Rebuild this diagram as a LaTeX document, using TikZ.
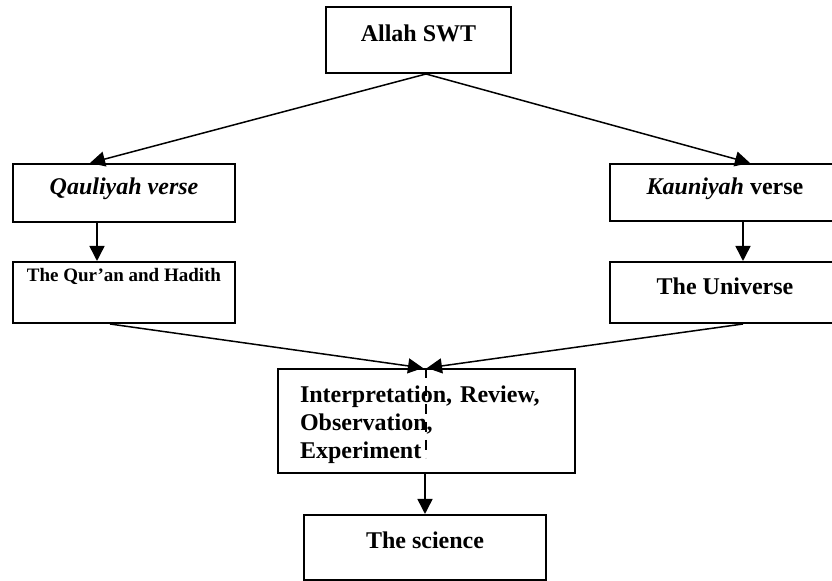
\documentclass[tikz,border=0pt]{standalone}
\usepackage{fontspec}
\setmainfont{Liberation Serif}
\usetikzlibrary{arrows.meta}

\begin{document}
\begin{tikzpicture}[x=0.5pt,y=-0.5pt]
 \useasboundingbox (0,0) rectangle (832,581);
 \tikzstyle{every node} = [draw,line width=1pt,inner sep=0pt,
   font=\fontsize{12}{13.8}\selectfont\bfseries]
 \tikzstyle{flow} = [line width=0.75pt,-{Triangle[length=7.5pt,width=7.5pt]}]
 \node[minimum width=92.5pt,text height=17.5pt,text depth=15.5pt] (allah) at (418.5,40) {Allah SWT};
 \node[minimum width=111pt,text height=15.5pt,text depth=13.5pt] (qauli) at (124,193) {\itshape Qauliyah verse};
 \node[minimum width=111pt,text height=10pt,text depth=20.5pt,
   font=\fontsize{9.5}{11}\selectfont\bfseries] (quran) at (124,292.5) {The Qur'an and Hadith};
 \node[minimum width=115pt,text height=15.5pt,text depth=13pt] (kauni) at (725,192.5) {\textit{Kauniyah} verse};
 \node[minimum width=115pt,text height=16.5pt,text depth=14pt] (univ) at (725,292.5) {The Universe};
 \node[text width=126.5pt,inner xsep=11pt,minimum height=52pt,align=left] (interp) at (426.5,421)
 {\rule{0pt}{12pt}Interpretation, Review,\\ Observation,\\ Experiment};
 \node[minimum width=121pt,text height=17pt,text depth=15.5pt] (sci) at (425,547.5) {The science};
 \coordinate (cut) at (426,458);
 \draw [flow] ([xshift=3.75pt]allah.south) -- ([xshift=-17pt]qauli.north);
 \draw [flow] ([xshift=3.75pt]allah.south) -- ([xshift=12.5pt]kauni.north);
 \draw [flow] ([xshift=-13.5pt]qauli.south) -- ([xshift=-13.5pt]quran.north);
 \draw [flow] ([xshift=9pt]kauni.south) -- ([xshift=9pt]univ.north);
 \draw [flow] ([xshift=-7pt]quran.south) -- ([xshift=-1.75pt]interp.north);
 \draw [flow] ([xshift=9pt]univ.south) -- ([xshift=0.25pt]interp.north);
 \draw [flow] ([xshift=-0.75pt]interp.south) -- (sci.north);
 \draw [line width=0.75pt,dash pattern=on 5pt off 4pt] (interp.north -| cut) -- (cut);
\end{tikzpicture}
\end{document}
